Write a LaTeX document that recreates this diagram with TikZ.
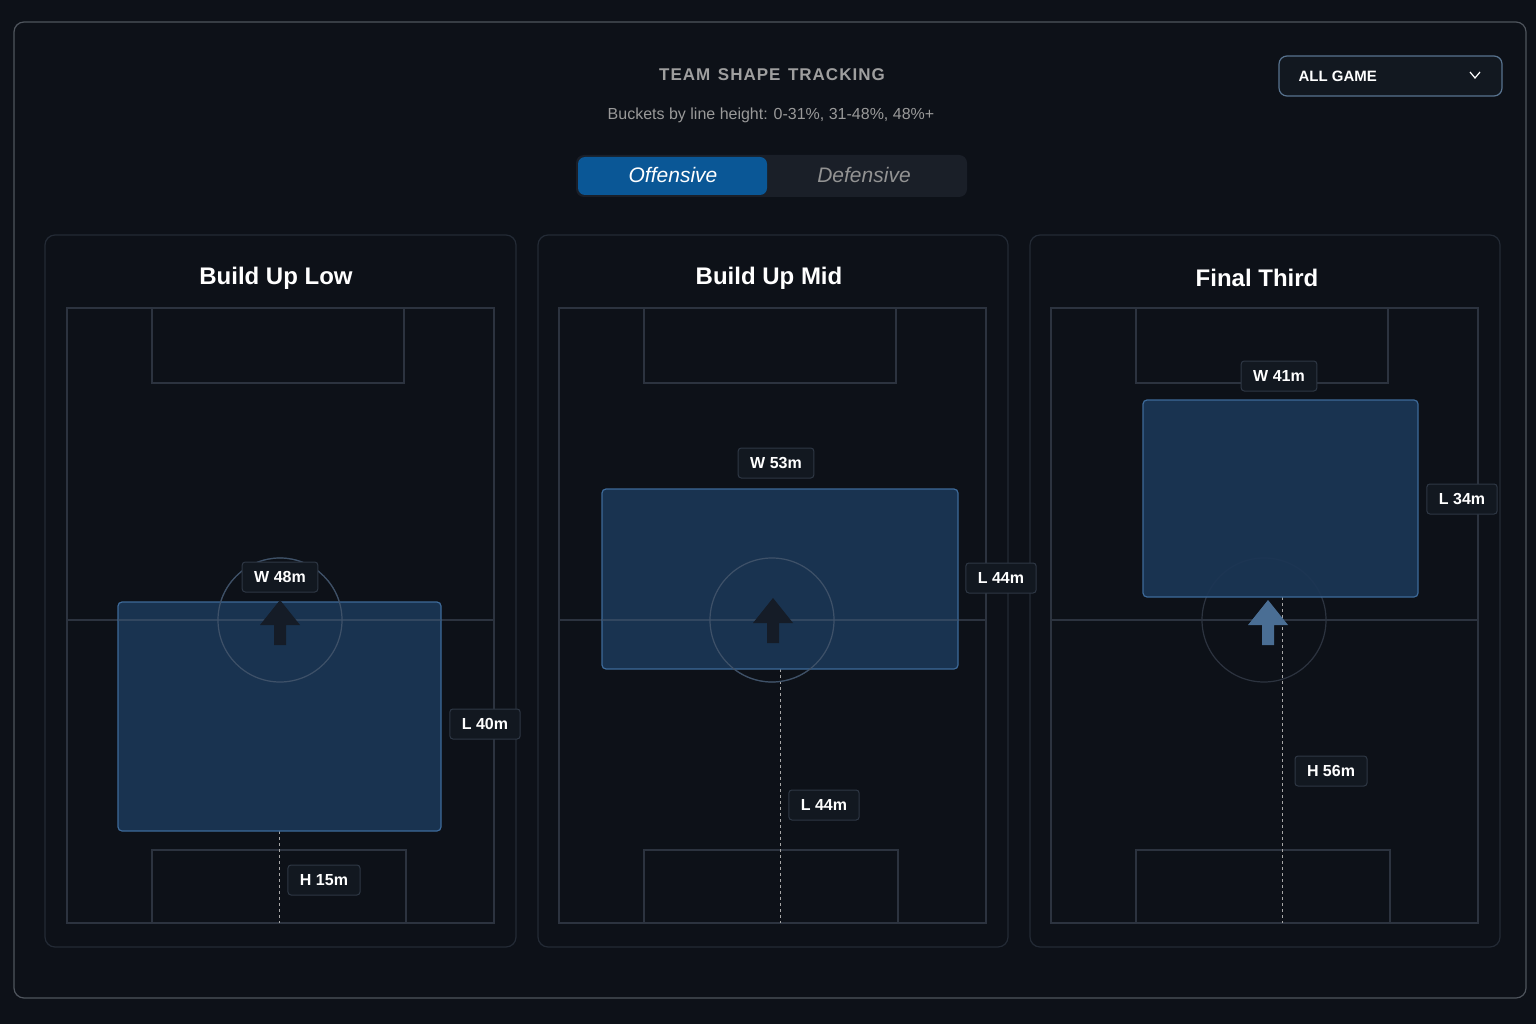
\documentclass[tikz,border=0pt]{standalone}
\usepackage{fontspec}
\setmainfont{Liberation Sans}
\definecolor{bgdark}{HTML}{0D1118}
\definecolor{panelline}{HTML}{232A35}
\definecolor{pitchline}{HTML}{2C333F}
\definecolor{shapefill}{HTML}{1B3655}
\definecolor{shapeline}{HTML}{3D6A99}
\definecolor{overline}{HTML}{3E5168}
\definecolor{tagfill}{HTML}{121820}
\definecolor{tagline}{HTML}{2E3744}
\definecolor{toggleblue}{HTML}{0A5796}
\definecolor{togglebg}{HTML}{1A1F28}
\definecolor{arrowdark}{HTML}{151C27}
\tikzset{
 panelbox/.style={draw=panelline,line width=1.2pt,rounded corners=10pt},
 pitch/.style={draw=pitchline,line width=1.2pt},
 teamshape/.style={fill=shapefill,draw=shapeline,line width=1.2pt,rounded corners=4pt},
 tag/.style={fill=tagfill,draw=tagline,line width=1pt,rounded corners=3pt,text=white,
   font=\fontsize{16}{16}\selectfont\bfseries,inner xsep=12pt,minimum height=30pt},
 heightline/.style={draw=gray!70,dashed,line width=0.8pt},
 paneltitle/.style={text=white,font=\fontsize{24}{24}\selectfont\bfseries}
}
\newcommand{\pitchat}[1]{%
 \begin{scope}[xshift=#1]
  \draw[pitch] (67,308) rectangle (494,923);
  \draw[pitch] (67,620) -- (494,620);
  \draw[pitch] (152,308) rectangle (404,383);
  \draw[pitch] (152,850) rectangle (406,923);
  \draw[pitch] (280,620) circle (62);
 \end{scope}}
\newcommand{\uparrowat}[3]{%
 \fill[#3] (#1,#2) -- (#1+20,#2+25) -- (#1+6,#2+25) -- (#1+6,#2+45)
   -- (#1-6,#2+45) -- (#1-6,#2+25) -- (#1-20,#2+25) -- cycle;}
\begin{document}
\begin{tikzpicture}[x=1pt,y=-1pt]
 \fill[bgdark] (0,0) rectangle (1536,1024);
 \useasboundingbox (0,0) rectangle (1536,1024);
 \draw[panelbox,draw=panelline!80] (14,22) rectangle (1526,998);
 % header
 \node[text=gray!75,font=\fontsize{17}{17}\selectfont\bfseries] (head) at (772,75) {T\kern1pt E\kern1pt A\kern1pt M\ \,S\kern1pt H\kern1pt A\kern1pt P\kern1pt E\ \,T\kern1pt R\kern1pt A\kern1pt C\kern1pt K\kern1pt I\kern1pt N\kern1pt G};
 \node[text=gray!80,font=\fontsize{16}{16}\selectfont] (sub) at (771,115) {Buckets by line height: 0-31\%, 31-48\%, 48\%+};
 \fill[togglebg,rounded corners=8pt] (576,155) rectangle (967,197);
 \fill[toggleblue,rounded corners=7pt] (578,157) rectangle (767,195);
 \node[text=white,font=\fontsize{21}{21}\selectfont\itshape] (off) at (673,175) {Offensive};
 \node[text=gray!85,font=\fontsize{21}{21}\selectfont\itshape] (def) at (864,175) {Defensive};
 \draw[fill=tagfill,draw=shapeline!60!gray,line width=1.2pt,rounded corners=8pt] (1279,56) rectangle (1502,96);
 \node[text=white,font=\fontsize{15}{15}\selectfont\bfseries,anchor=west] (game) at (1295,76) {ALL GAME};
 \draw[white,line width=1.2pt] (1470,72) -- (1475,78) -- (1480,72);
 % panels
 \draw[panelbox] (45,235) rectangle (516,947);
 \draw[panelbox] (538,235) rectangle (1008,947);
 \draw[panelbox] (1030,235) rectangle (1500,947);
 \node[paneltitle] (t1) at (276,278) {Build Up Low};
 \node[paneltitle] (t2) at (769,278) {Build Up Mid};
 \node[paneltitle] (t3) at (1257,278) {Final Third};
 \pitchat{0}
 \pitchat{492}
 \pitchat{984}
 % build up low
 \draw[heightline] (279,831) -- (279,923);
 \draw[teamshape,fill opacity=0.92] (118,602) rectangle (441,831);
 \draw[draw=overline,line width=1.2pt] (280,620) circle (62) (118,620) -- (441,620);
 \uparrowat{280}{600}{arrowdark}
 \node[tag] (w1) at (280,577) {W 48m};
 \node[tag] (l1) at (485,724) {L 40m};
 \node[tag] (h1) at (324,880) {H 15m};
 % build up mid
 \draw[heightline] (780,669) -- (780,923);
 \draw[teamshape,fill opacity=0.92] (602,489) rectangle (958,669);
 \draw[draw=overline,line width=1.2pt] (772,620) circle (62) (602,620) -- (958,620);
 \uparrowat{773}{598}{arrowdark}
 \node[tag] (w2) at (776,463) {W 53m};
 \node[tag] (l2) at (1001,578) {L 44m};
 \node[tag] (h2) at (824,805) {L 44m};
 % final third
 \draw[heightline] (1282,597) -- (1282,923);
 \uparrowat{1268}{600}{shapeline!80!gray}
 \draw[teamshape,fill opacity=0.92] (1143,400) rectangle (1418,597);
 \node[tag] (w3) at (1279,376) {W 41m};
 \node[tag] (l3) at (1462,499) {L 34m};
 \node[tag] (h3) at (1331,771) {H 56m};
\end{tikzpicture}
\end{document}
